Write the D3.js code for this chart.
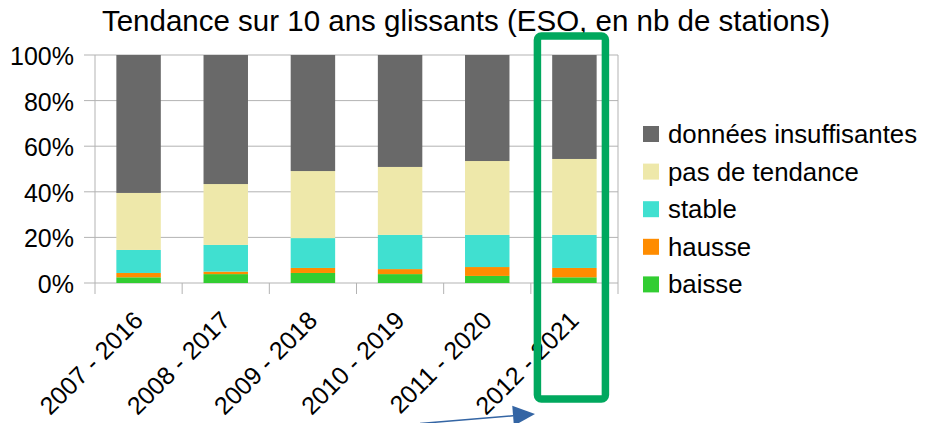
<!DOCTYPE html>
<html>
<head>
<meta charset="utf-8">
<script src="https://cdn.jsdelivr.net/npm/d3@7"></script>
<style>
  body { margin: 0; background: #fff; }
  svg { display: block; font-family: "Liberation Sans", Arial, sans-serif; }
</style>
</head>
<body>
<svg class="chart" width="926" height="423"></svg>
<script>
const periods = ["2007 - 2016", "2008 - 2017", "2009 - 2018", "2010 - 2019", "2011 - 2020", "2012 - 2021"];
const baisse = [2.5, 3.9, 4.4, 3.9, 3.1, 2.5];
const hausse = [1.9, 1.1, 2.2, 2.2, 3.9, 4.1];
const stable = [10.1, 11.7, 13.1, 15.0, 14.1, 14.5];
const pasDeTendance = [25.0, 26.7, 29.4, 29.8, 32.4, 33.3];
const donneesInsuffisantes = [60.5, 56.6, 50.9, 49.1, 46.5, 45.6];
const yTicks = [0, 20, 40, 60, 80, 100];

const seriesNames = ["baisse", "hausse", "stable", "pas de tendance", "données insuffisantes"];
const seriesValues = [baisse, hausse, stable, pasDeTendance, donneesInsuffisantes];
const colors = ["#32cd32", "#ff8c00", "#40e0d0", "#eee8aa", "#696969"];

const svg = d3.select(".chart");
const plotLeft = 95, plotRight = 618, plotTop = 55, plotBottom = 283;

const rows = periods.map((p, i) => {
    const r = { period: p };
    seriesNames.forEach((s, k) => { r[s] = seriesValues[k][i]; });
    return r;
});
const stacked = d3.stack().keys(seriesNames)(rows);

const xScale = d3.scaleBand()
    .domain(periods)
    .range([plotLeft, plotRight])
    .paddingInner(0.49)
    .paddingOuter(0.245);

const yScale = d3.scaleLinear()
    .domain([0, 100])
    .range([plotBottom, plotTop]);

// title
svg.append("text")
    .attr("x", 466)
    .attr("y", 31)
    .attr("text-anchor", "middle")
    .attr("font-size", 29.5)
    .attr("fill", "#000")
    .text("Tendance sur 10 ans glissants (ESO, en nb de stations)");

// grid + y axis
svg.append("g")
    .selectAll("line")
    .data(yTicks)
    .join("line")
    .attr("x1", plotLeft - 11)
    .attr("x2", plotRight)
    .attr("y1", d => yScale(d))
    .attr("y2", d => yScale(d))
    .attr("stroke", "#b3b3b3")
    .attr("stroke-width", 1);

svg.append("g")
    .selectAll("text")
    .data(yTicks)
    .join("text")
    .attr("x", 74)
    .attr("y", d => yScale(d) + 10)
    .attr("text-anchor", "end")
    .attr("font-size", 25)
    .text(d => d + "%");

// vertical frame lines and category ticks
const step = xScale.step();
const bounds = d3.range(periods.length + 1).map(i => plotLeft + i * step);
svg.append("g")
    .selectAll("line")
    .data(bounds)
    .join("line")
    .attr("x1", d => d)
    .attr("x2", d => d)
    .attr("y1", (d, i) => (i === 0 || i === periods.length) ? plotTop : plotBottom)
    .attr("y2", plotBottom + 11)
    .attr("stroke", "#b3b3b3")
    .attr("stroke-width", 1);

// bars
svg.append("g")
    .selectAll("g")
    .data(stacked)
    .join("g")
    .attr("fill", (d, i) => colors[i])
    .selectAll("rect")
    .data(d => d)
    .join("rect")
    .attr("x", d => xScale(d.data.period))
    .attr("width", xScale.bandwidth())
    .attr("y", d => yScale(d[1]))
    .attr("height", d => yScale(d[0]) - yScale(d[1]));

// category labels
svg.append("g")
    .selectAll("text")
    .data(periods)
    .join("text")
    .attr("transform", d => `translate(${xScale(d) + xScale.bandwidth() / 2 + 6}, 322) rotate(-45)`)
    .attr("text-anchor", "end")
    .attr("font-size", 25)
    .text(d => d);

// legend (top to bottom: reversed series)
const legendOrder = seriesNames.map((s, i) => i).reverse();
const legend = svg.append("g")
    .selectAll("g")
    .data(legendOrder)
    .join("g")
    .attr("transform", (d, j) => `translate(643, ${134 + j * 37.6})`);
legend.append("rect")
    .attr("x", 0)
    .attr("y", -8)
    .attr("width", 16)
    .attr("height", 16)
    .attr("fill", d => colors[d]);
legend.append("text")
    .attr("x", 25)
    .attr("y", 9)
    .attr("font-size", 25.8)
    .text(d => seriesNames[d]);

// highlight box around last period
const lastX = xScale(periods[periods.length - 1]) + xScale.bandwidth() / 2;
svg.append("rect")
    .attr("x", lastX - 37)
    .attr("y", 36)
    .attr("width", 68)
    .attr("height", 363)
    .attr("rx", 4)
    .attr("fill", "none")
    .attr("stroke", "#00a85e")
    .attr("stroke-width", 7.5);

// arrow
const tip = [535, 414], tail = [420, 423.5];
const ang = Math.atan2(tip[1] - tail[1], tip[0] - tail[0]);
const headLen = 22, headHalf = 10;
const base = [tip[0] - headLen * Math.cos(ang), tip[1] - headLen * Math.sin(ang)];
const nx = -Math.sin(ang), ny = Math.cos(ang);
svg.append("line")
    .attr("x1", tail[0]).attr("y1", tail[1])
    .attr("x2", base[0]).attr("y2", base[1])
    .attr("stroke", "#3465a4")
    .attr("stroke-width", 1.5);
svg.append("path")
    .attr("d", d3.line()([tip, [base[0] + headHalf * nx, base[1] + headHalf * ny], [base[0] - headHalf * nx, base[1] - headHalf * ny]]) + "Z")
    .attr("fill", "#3465a4");
</script>
</body>
</html>
